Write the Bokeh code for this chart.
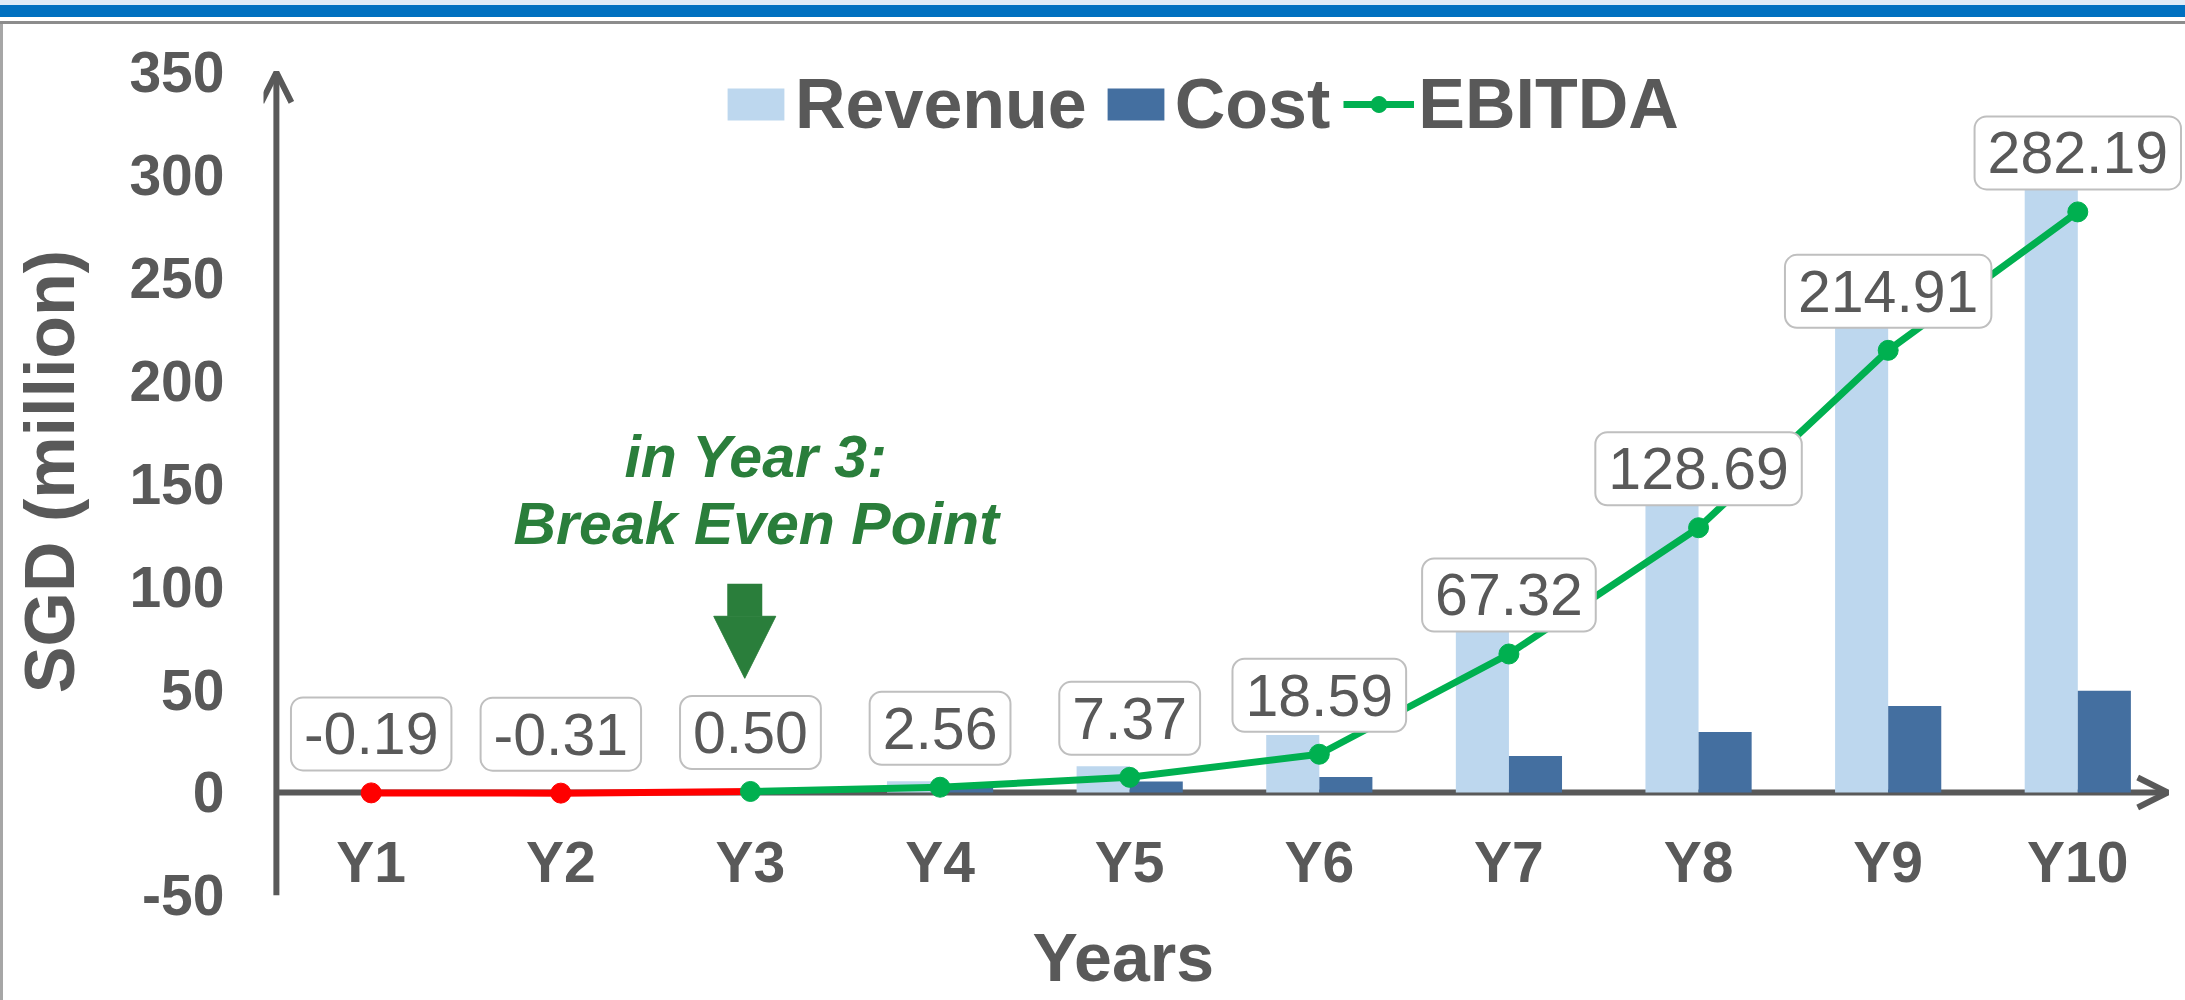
from bokeh.plotting import figure
from bokeh.models import (FactorRange, Range1d, FixedTicker, Label, Legend, LegendItem,
                          Arrow, OpenHead, NormalHead, Div, ColumnDataSource, Title)
from bokeh.layouts import column, row
from bokeh.transform import dodge
from bokeh.embed import file_html
from bokeh.resources import INLINE

# ---------------- data ----------------
years = ["Y1", "Y2", "Y3", "Y4", "Y5", "Y6", "Y7", "Y8", "Y9", "Y10"]
revenue = [0.05, 0.10, 1.5, 5.5, 12.7, 28.0, 85.0, 158.0, 257.0, 325.0]
cost = [0.24, 0.41, 1.0, 2.9, 5.4, 7.5, 17.7, 29.4, 42.0, 49.5]
ebitda = [-0.19, -0.31, 0.50, 2.56, 7.37, 18.59, 67.32, 128.69, 214.91, 282.19]
y_ticks = [-50, 0, 50, 100, 150, 200, 250, 300, 350]
break_even_year = "Y3"
note_lines = ["in Year 3:", "Break Even Point"]

# ---------------- styles ----------------
FONT = "Liberation Sans"
GREY = "#595959"
REV_C = "#BDD7EE"
COST_C = "#446FA0"
GREEN = "#00B050"
RED = "#FF0000"
NOTE_C = "#2A7E3B"

src = ColumnDataSource(dict(years=years, revenue=revenue, cost=cost, ebitda=ebitda))

p = figure(x_range=FactorRange(factors=years, range_padding=0.068, range_padding_units="absolute"),
           y_range=Range1d(-61.24, 373.27),
           width=2182, height=976, output_backend="svg", toolbar_location=None,
           min_border_left=260, min_border_right=0, min_border_top=0, min_border_bottom=82)
p.outline_line_color = None
p.xgrid.visible = False
p.ygrid.visible = False
p.background_fill_color = "white"
p.border_fill_color = "white"

rev_r = p.vbar(x=dodge("years", -0.14, range=p.x_range), top="revenue", bottom=0, width=0.28,
               source=src, fill_color=REV_C, line_color=None)
cost_r = p.vbar(x=dodge("years", 0.14, range=p.x_range), top="cost", bottom=0, width=0.28,
                source=src, fill_color=COST_C, line_color=None)

be = years.index(break_even_year)
p.line(years[:be + 1], ebitda[:be + 1], line_color=RED, line_width=7)
p.scatter(years[:be], ebitda[:be], size=20, fill_color=RED, line_color=RED)
g_line = p.line(years[be:], ebitda[be:], line_color=GREEN, line_width=7)
g_pts = p.scatter(years[be:], ebitda[be:], size=20, fill_color=GREEN, line_color=GREEN)

# axes
xa = p.xaxis[0]
xa.fixed_location = 0
xa.axis_line_color = None
xa.major_tick_line_color = None
xa.minor_tick_line_color = None
xa.major_label_text_font = FONT
xa.major_label_text_font_size = "57px"
xa.major_label_text_font_style = "bold"
xa.major_label_text_color = GREY
xa.major_label_standoff = 32

ya = p.yaxis[0]
ya.ticker = FixedTicker(ticks=y_ticks)
ya.major_label_overrides = {t: str(t) for t in y_ticks}
ya.axis_line_color = None
ya.major_tick_line_color = None
ya.minor_tick_line_color = None
ya.major_label_text_font = FONT
ya.major_label_text_font_size = "57px"
ya.major_label_text_font_style = "bold"
ya.major_label_text_color = GREY
ya.major_label_standoff = 33
ya.axis_label = "SGD (million)"
ya.axis_label_text_font = FONT
ya.axis_label_text_font_size = "70px"
ya.axis_label_text_font_style = "bold"
ya.axis_label_text_color = GREY
ya.axis_label_standoff = 37

# axis lines with arrow heads (under the data)
p.add_layout(Arrow(x_start=0, y_start=0, x_end=len(years) - 0.026, y_end=0,
                   line_color=GREY, line_width=6, level="underlay",
                   end=OpenHead(size=30, line_color=GREY, line_width=6)))
p.add_layout(Arrow(x_start=0, y_start=y_ticks[0], x_end=0, y_end=y_ticks[-1],
                   line_color=GREY, line_width=6, level="underlay",
                   end=OpenHead(size=30, line_color=GREY, line_width=6)))

# data labels
for i, v in enumerate(ebitda):
    p.add_layout(Label(x=i + 0.5, y=v, text=f"{v:.2f}", y_offset=59,
                       text_align="center", text_baseline="middle",
                       text_font=FONT, text_font_size="59px", text_color=GREY,
                       background_fill_color="white", border_line_color="#BFBFBF",
                       border_line_width=2, border_radius=12, padding=(13, 16)))

# x axis title
p.add_layout(Title(text="Years", align="left", offset=769, vertical_align="top", standoff=0,
                   text_font=FONT, text_font_size="68px", text_font_style="bold",
                   text_color=GREY), "below")

# break-even note
p.add_layout(Label(x=be + 0.53, y=163, text=note_lines[0], text_align="center",
                   text_baseline="middle", text_font=FONT, text_font_size="59px",
                   text_font_style="bold italic", text_color=NOTE_C))
p.add_layout(Label(x=be + 0.53, y=130.5, text=note_lines[1], text_align="center",
                   text_baseline="middle", text_font=FONT, text_font_size="59px",
                   text_font_style="bold italic", text_color=NOTE_C))
p.add_layout(Arrow(x_start=be + 0.47, y_start=101.5, x_end=be + 0.47, y_end=55.5,
                   line_color=NOTE_C, line_width=35,
                   end=NormalHead(size=62, fill_color=NOTE_C, line_color=NOTE_C, line_width=1)))

# legend
legend = Legend(items=[LegendItem(label="Revenue", renderers=[rev_r]),
                       LegendItem(label="Cost", renderers=[cost_r]),
                       LegendItem(label="EBITDA", renderers=[g_line, g_pts])],
                orientation="horizontal", location=(457, 774),
                border_line_color=None, background_fill_alpha=0, padding=0, margin=0,
                spacing=13, glyph_width=71, glyph_height=40, label_standoff=4,
                label_text_font=FONT, label_text_font_size="70px",
                label_text_font_style="bold", label_text_color=GREY)
p.add_layout(legend)

top_band = Div(text="", width=2185, height=24, margin=0,
               styles={"background": "linear-gradient(to bottom, #DEEBF7 0px, #DEEBF7 5px, "
                                     "#0070C0 5px, #0070C0 17px, #FFFFFF 17px, #FFFFFF 21px, "
                                     "#8C8C8C 21px, #8C8C8C 24px)"})
left_line = Div(text="", width=3, height=976, margin=0, styles={"background-color": "#A6A6A6"})
layout = column(top_band, row(left_line, p, spacing=0), spacing=0)

open("out.html", "w").write(file_html(layout, INLINE))
